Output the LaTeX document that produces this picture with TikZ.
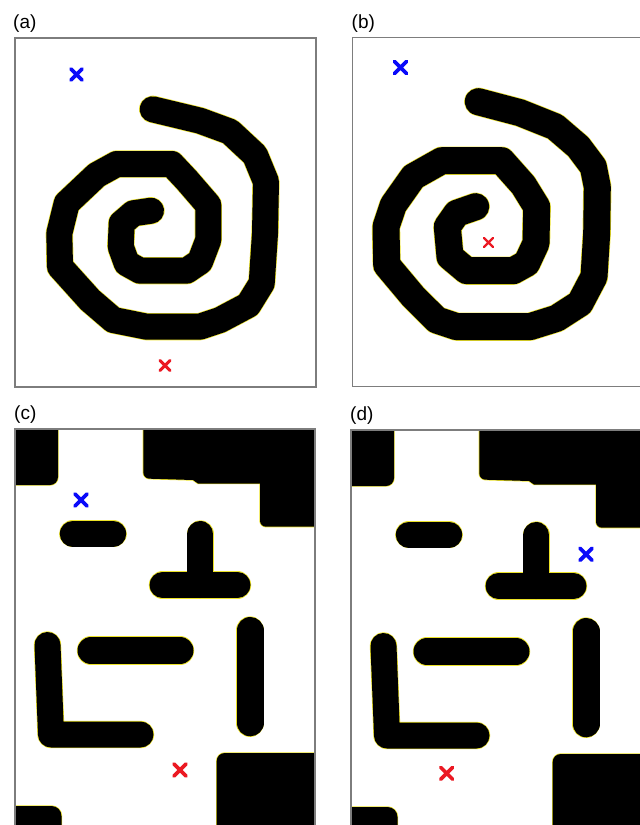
\documentclass[tikz,border=0pt]{standalone}
\usepackage{fontspec}
\setmainfont{Liberation Sans}
\definecolor{fringe}{RGB}{236,226,40}
\definecolor{framegray}{RGB}{125,125,125}
\definecolor{mkblue}{RGB}{10,10,250}
\definecolor{mkred}{RGB}{235,25,35}
\tikzset{
  wall/.style={draw=black, line width=#1, line cap=round, line join=round,
    preaction={draw=fringe, line width=#1+1.3pt, line cap=round, line join=round}},
  wall/.default=26pt,
  block/.style={fill=black, rounded corners=#1,
    preaction={draw=fringe, line width=1.4pt, rounded corners=#1}},
  block/.default=8pt,
  panelframe/.style={draw=framegray, line width=1.3pt},
  panellabel/.style={font=\fontsize{19}{22}\selectfont, anchor=base west, inner sep=0pt},
  pics/xmark/.style n args={3}{code={
    \draw[#1, line width=#3, line cap=round] (-#2,-#2) -- (#2,#2) (-#2,#2) -- (#2,-#2);}}
}
\newcommand\mazeshapes{%
  \path[block=8pt] (5,415) rectangle (58,485);
  \path[fill=black, preaction={draw=fringe, line width=1.4pt}]
     (143.3,415) [rounded corners=6pt] -- (143.3,478.5) [sharp corners] -- (193,480) -- (198,483.5)
     -- (260,483.5) [rounded corners=6pt] -- (260,526.7) [sharp corners] -- (340,526.7) -- (340,415) -- cycle;
  \draw[wall] (72.8,533.8) -- (113.2,533.8);
  \draw[wall] (200.3,534) -- (200.3,585) (162.5,585) -- (237.5,585);
  \draw[wall=27pt] (91,650.5) -- (180,650.5);
  \draw[wall=27pt] (250,630.5) -- (250,722.8);
  \draw[wall] (47.5,645) -- (51,734.5) -- (140.5,734.5);
  \path[block=8pt] (216.7,753) rectangle (340,840);
  \path[block=10pt] (5,806) rectangle (61.5,840);
}
\begin{document}
\begin{tikzpicture}[x=1pt,y=-1pt]
\useasboundingbox (0,0) rectangle (640,825);
\fill[white] (0,0) rectangle (640,825);
\clip (0,0) rectangle (640,825);

% ---------- (a)
\node[panellabel] (la) at (13,28.5) {(a)};
\draw[wall] (152.7,109.3) -- (200,120.7) -- (230,131.7) -- (255,155) -- (266,181.7) -- (265,233.3)
  -- (261.7,283.3) -- (248.3,305) -- (220,320) -- (200,326.7) -- (146.7,326.7) -- (113.3,320)
  -- (90,300) -- (60,266.7) -- (59.3,233.3) -- (66.7,203.3) -- (96.7,175) -- (116.7,164)
  -- (171.7,164) -- (186.7,180) -- (208.3,205) -- (208.3,240) -- (200,261.7) -- (186.7,270.7)
  -- (140,270.7) -- (126.7,263.3) -- (120.7,246.7) -- (121.7,223.3) -- (133.3,213.3) -- (151,210.7);
\pic at (76.5,74.5) {xmark={mkblue}{5.5}{3.6pt}};
\pic at (165,365.5) {xmark={mkred}{5}{3pt}};
\draw[panelframe] (15,38) rectangle (316,387);

% ---------- (b)
\node[panellabel] (lb) at (351.5,28.5) {(b)};
\draw[wall=27pt] (478.3,101.7) -- (520,112.7) -- (555,126.7) -- (578.3,146.7) -- (593.3,166.7)
  -- (597.3,186.7) -- (596.7,233.3) -- (594,276.7) -- (580,303.3) -- (556.7,318.3) -- (530,326.7)
  -- (456.7,326.7) -- (436.7,320) -- (413.3,296.7) -- (386.7,265) -- (386,226.7) -- (393.3,205)
  -- (413.3,176.7) -- (441.7,160.7) -- (501.7,160.7) -- (523.3,185) -- (536.7,206.7) -- (536,243.3)
  -- (526.7,263.3) -- (513.3,270.7) -- (466.7,270.7) -- (450,256.7) -- (447.3,226.7) -- (456.7,213.3)
  -- (475.7,206.7);
\pic at (400.5,67.5) {xmark={mkblue}{6}{3.8pt}};
\pic at (488.5,242.5) {xmark={mkred}{4.6}{2.4pt}};
\draw[panelframe] (352.7,37.7) rectangle (660,386.7);

% ---------- (c)
\node[panellabel] (lc) at (14,419.5) {(c)};
\begin{scope}
  \clip (15,429) rectangle (315,840);
  \mazeshapes
\end{scope}
\pic at (81,500) {xmark={mkblue}{6}{3.8pt}};
\pic at (180,770) {xmark={mkred}{6}{3.6pt}};
\draw[panelframe] (15,429) rectangle (315,860);

% ---------- (d)
\node[panellabel] (ld) at (350,420.5) {(d)};
\begin{scope}[shift={(336,1)}]
  \begin{scope}
    \clip (15,429) rectangle (315,840);
    \mazeshapes
  \end{scope}
  \draw[panelframe] (15,429) rectangle (315,860);
\end{scope}
\pic at (586,554.3) {xmark={mkblue}{6}{3.8pt}};
\pic at (446.7,773.3) {xmark={mkred}{6}{3.6pt}};
\end{tikzpicture}
\end{document}
